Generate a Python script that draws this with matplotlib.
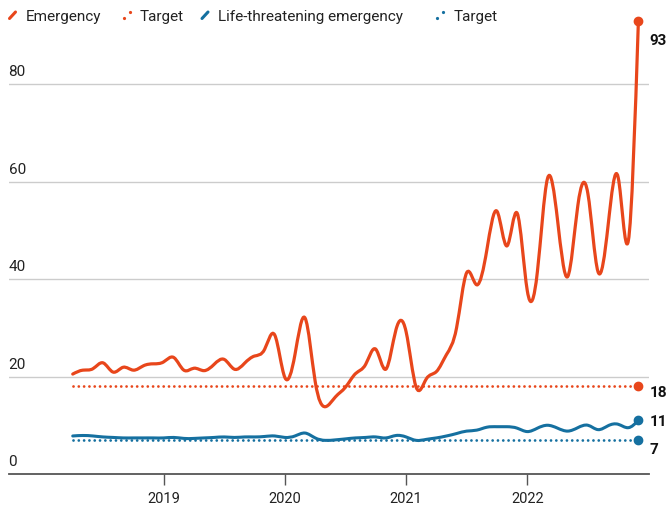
import numpy as np
import matplotlib
matplotlib.use('Agg')
import matplotlib.pyplot as plt
from matplotlib.path import Path
from matplotlib.patches import PathPatch
from matplotlib.lines import Line2D

plt.rcParams['font.family'] = ['Roboto', 'DejaVu Sans']

# Dados mensais: abril 2018 a dezembro 2022
meses = 2018.25 + np.arange(57) / 12.0
emergencia = [20.5, 21.3, 21.6, 22.8, 20.9, 21.9, 21.3, 22.2, 22.6, 23.0,
              23.9, 21.3, 21.7, 21.2, 22.5, 23.5, 21.5, 22.7, 24.2, 25.6,
              28.5, 19.8, 24.5, 32.0, 19.0, 13.8, 15.8, 17.8, 20.6, 22.5,
              25.6, 21.5, 29.6, 29.2, 17.8, 19.5, 21.0, 24.5, 30.0, 41.3,
              38.8, 46.0, 53.9, 46.8, 53.5, 37.6, 41.5, 60.6, 52.0, 40.5,
              55.0, 57.5, 41.5, 51.0, 60.8, 47.8, 93.0]
risco_vida = [7.8, 7.9, 7.8, 7.6, 7.5, 7.4, 7.4, 7.4, 7.4, 7.4,
              7.5, 7.3, 7.3, 7.4, 7.5, 7.6, 7.5, 7.6, 7.6, 7.7,
              7.8, 7.5, 7.8, 8.4, 7.4, 6.9, 7.0, 7.2, 7.4, 7.5,
              7.6, 7.4, 7.9, 7.6, 6.9, 7.1, 7.4, 7.8, 8.3, 8.8,
              9.0, 9.6, 9.7, 9.7, 9.4, 8.7, 9.4, 10.0, 9.4, 8.8,
              9.5, 10.0, 9.1, 9.9, 10.2, 9.5, 11.0]
meta_emergencia = 18
meta_risco = 7
anos = [2019, 2020, 2021, 2022]
y_ticks = [0, 20, 40, 60, 80]

laranja = '#E8461B'
azul = '#1570A0'
W, H = 667, 511


# Pontos de controle de uma spline cúbica natural (um eixo de cada vez)
def controles(v):
    v = np.asarray(v, dtype=float)
    n = len(v) - 1
    a = np.zeros(n); b = np.zeros(n); r = np.zeros(n)
    a[0], b[0], r[0] = 0, 2, v[0] + 2 * v[1]
    for i in range(1, n - 1):
        a[i], b[i], r[i] = 1, 4, 4 * v[i] + 2 * v[i + 1]
    a[n - 1], b[n - 1], r[n - 1] = 2, 7, 8 * v[n - 1] + v[n]
    for i in range(1, n):
        m = a[i] / b[i - 1]
        b[i] -= m
        r[i] -= m * r[i - 1]
    a[n - 1] = r[n - 1] / b[n - 1]
    for i in range(n - 2, -1, -1):
        a[i] = (r[i] - a[i + 1]) / b[i]
    b[n - 1] = (v[n] + a[n - 1]) / 2
    for i in range(n - 1):
        b[i] = 2 * v[i + 1] - a[i + 1]
    return a, b


def curva_suave(x, y):
    ax_, bx_ = controles(x)
    ay_, by_ = controles(y)
    verts = [(x[0], y[0])]
    codes = [Path.MOVETO]
    for i in range(len(x) - 1):
        verts += [(ax_[i], ay_[i]), (bx_[i], by_[i]), (x[i + 1], y[i + 1])]
        codes += [Path.CURVE4] * 3
    return Path(verts, codes)


fig = plt.figure(figsize=(W / 100, H / 100), dpi=100)
ax = fig.add_axes([8.5 / W, 37 / H, 640 / W, 463 / H])
ax.set_xlim(2017.72, 2023.0)
ax.set_ylim(0, 463 / 4.875)
for s in ax.spines.values():
    s.set_visible(False)

# grade e rótulos do eixo y
for v in y_ticks:
    if v > 0:
        ax.axhline(v, color='#cccccc', lw=1, zorder=1)
    ax.annotate(str(v), (0, v), xycoords=ax.get_yaxis_transform(),
                xytext=(0, 5), textcoords='offset pixels',
                ha='left', va='bottom', fontsize=11, color='#222222')
ax.axhline(0, color='#555555', lw=1.3, zorder=2, clip_on=False)
ax.set_yticks([])
ax.set_xticks(anos)
ax.set_xticklabels([str(a) for a in anos], fontsize=10.5, color='#222222')
ax.tick_params(axis='x', length=8, width=1, color='#555555', pad=5)

# metas (pontilhado)
estilo_pont = dict(lw=2.0, linestyle=(0, (0.01, 1.9)), dash_capstyle='round', zorder=3)
ax.plot([meses[0], meses[-1]], [meta_emergencia] * 2, color=laranja, **estilo_pont)
ax.plot([meses[0], meses[-1]], [meta_risco] * 2, color=azul, **estilo_pont)

# séries
ax.add_patch(PathPatch(curva_suave(meses, risco_vida), fill=False, ec=azul,
                       lw=2.2, capstyle='round', joinstyle='round', zorder=4))
ax.add_patch(PathPatch(curva_suave(meses, emergencia), fill=False, ec=laranja,
                       lw=2.3, capstyle='round', joinstyle='round', zorder=5))

# pontos finais e rótulos
finais = [(emergencia[-1], laranja, -20), (meta_emergencia, laranja, -7),
          (risco_vida[-1], azul, -2), (meta_risco, azul, -10)]
for val, cor, dy in finais:
    ax.plot(meses[-1], val, 'o', color=cor, ms=6, zorder=6, clip_on=False)
    ax.annotate(f'{val:.0f}', (meses[-1], val), xytext=(11, dy),
                textcoords='offset pixels', ha='left', va='center',
                fontsize=11, fontweight='bold', color='#111111')

# legenda manual
def px(x, y):
    return x / W, 1 - y / H

itens = [(9.5, laranja, 'solid', 'Emergency', 26),
         (124, laranja, 'dots', 'Target', 140),
         (202, azul, 'solid', 'Life-threatening emergency', 218),
         (437, azul, 'dots', 'Target', 454)]
for x0, cor, tipo, texto, xt in itens:
    (a, b), (c, d) = px(x0, 18.5), px(x0 + 6, 12)
    if tipo == 'solid':
        fig.add_artist(Line2D([a, c], [b, d], transform=fig.transFigure,
                              color=cor, lw=2.2, solid_capstyle='round'))
    else:
        fig.add_artist(Line2D([a, c], [b, d], transform=fig.transFigure,
                              color=cor, ls='none', marker='o', ms=2.3, mew=0))
    tx, ty = px(xt, 20.7)
    fig.text(tx, ty, texto, fontsize=11, color='#222222', va='baseline', ha='left')

fig.savefig('out.png', dpi=100)
